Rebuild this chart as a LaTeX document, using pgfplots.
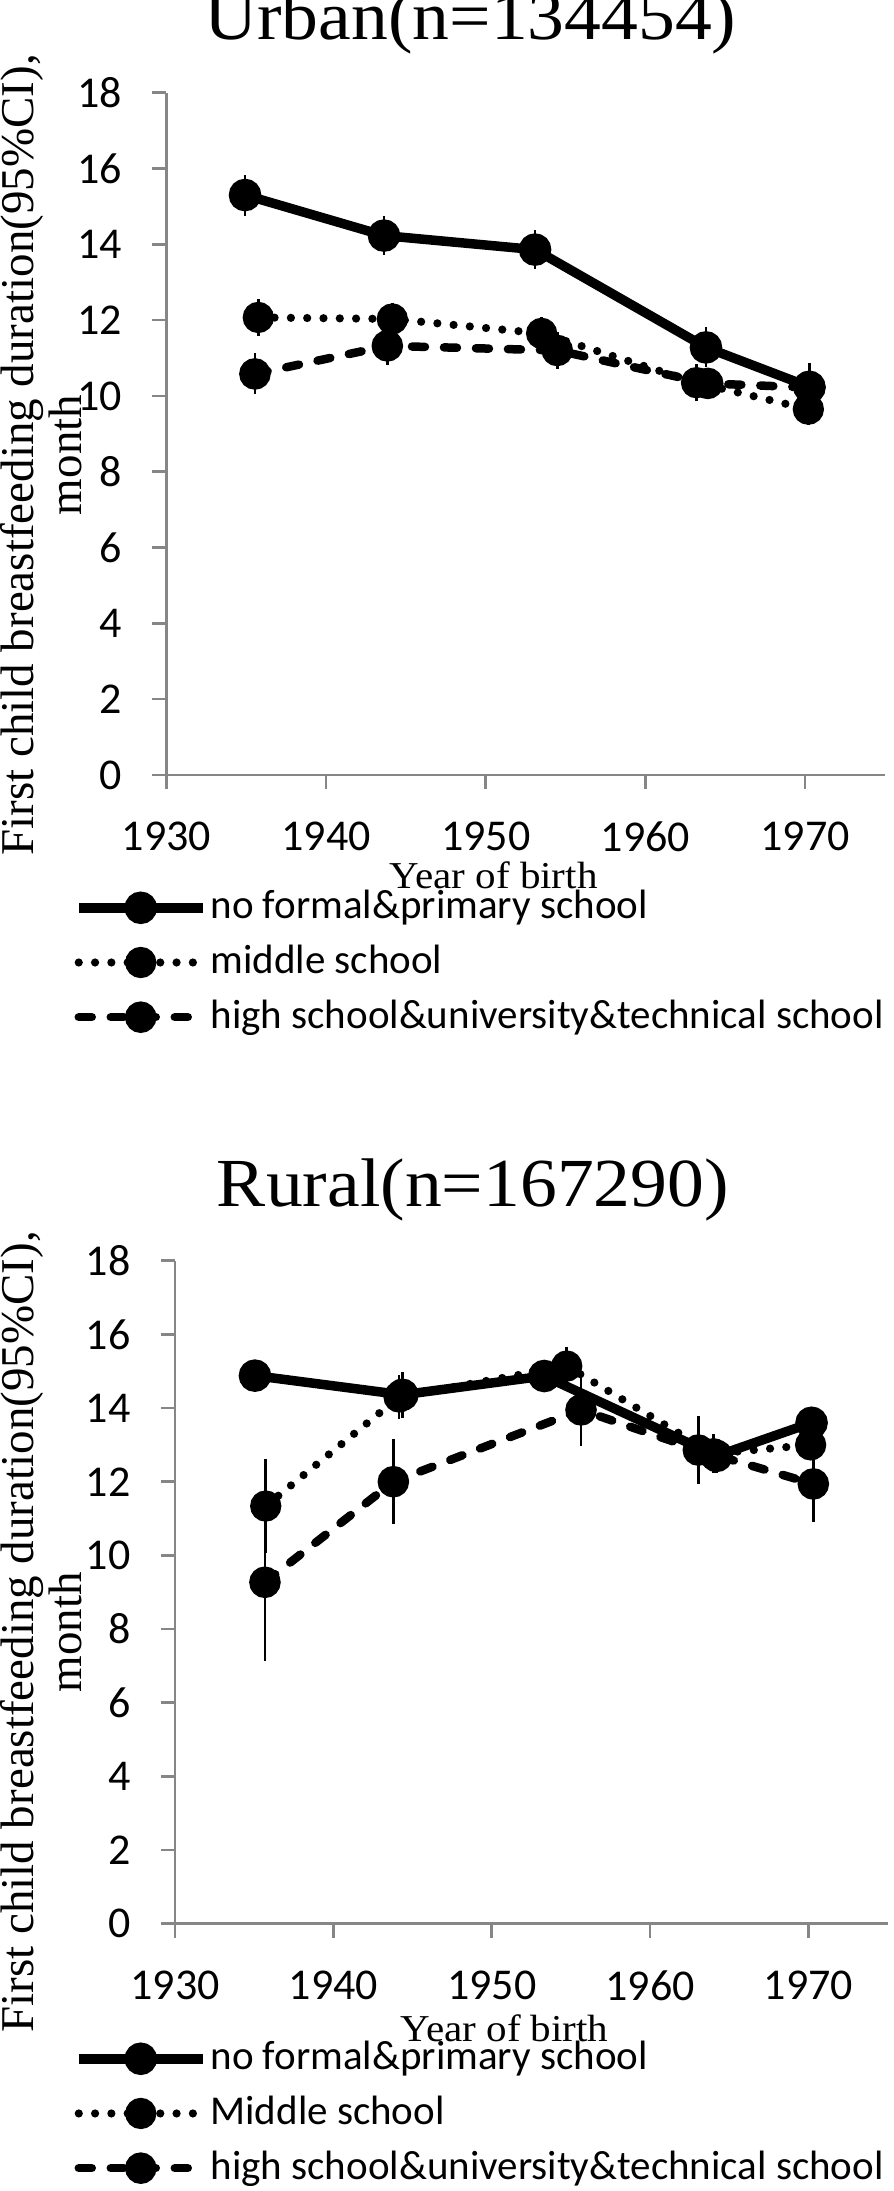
\documentclass[border=0pt]{standalone}
\usepackage{fontspec}
\setmainfont{Liberation Serif}
\newfontfamily\calib{Carlito}
\usepackage{graphicx}
\usepackage{pgfplots}
\usepackage{pgfplotstable}
\pgfplotsset{compat=1.18}
\definecolor{axgray}{RGB}{134,134,134}

% Urban
\pgfplotstableread{
x y e
1934.93 15.30 0.54
1943.63 14.23 0.52
1953.09 13.86 0.52
1963.79 11.28 0.53
1970.26 10.24 0.62
}\US
\pgfplotstableread{
x y e
1935.76 12.07 0.50
1944.15 12.03 0.42
1953.50 11.65 0.42
1963.20 10.35 0.48
1970.20 9.65 0.42
}\UM
\pgfplotstableread{
x y e
1935.55 10.58 0.54
1943.84 11.32 0.50
1954.48 11.20 0.49
1963.90 10.33 0.40
1970.30 10.22 0.50
}\UH
% Rural
\pgfplotstableread{
x y e
1935.05 14.88 0.43
1944.36 14.36 0.62
1953.32 14.87 0.40
1964.20 12.70 0.45
1970.20 13.60 0.40
}\RS
\pgfplotstableread{
x y e
1935.73 11.34 1.27
1944.15 14.30 0.60
1954.74 15.14 0.53
1964.00 12.76 0.53
1970.14 13.00 0.40
}\RM
\pgfplotstableread{
x y e
1935.68 9.27 2.13
1943.79 12.00 1.15
1955.64 13.95 0.98
1963.05 12.86 0.93
1970.31 11.94 1.02
}\RH

\pgfplotsset{
  myaxis/.style={
    scale only axis,
    axis lines*=left,
    xmin=1930, xmax=1975, ymin=0, ymax=18,
    xtick={1930,1940,...,1970}, ytick={0,2,...,18},
    tick align=outside,
    major tick length=7pt,
    axis line style={axgray, line width=1.3pt},
    tick style={axgray, line width=1.3pt},
    tick label style={font=\calib\fontsize{22}{26}\selectfont, /pgf/number format/assume math mode=true},
    /pgf/number format/1000 sep={},
    yticklabel style={anchor=east, inner sep=0pt, xshift=-15pt},
    xticklabel style={anchor=north, inner sep=0pt, yshift=-16.25pt},
    clip=false,
    title style={font=\fontsize{34.4}{38}\selectfont, anchor=base, inner sep=0pt, yshift=0pt},
    xlabel style={font=\fontsize{19}{23}\selectfont, anchor=center, inner sep=0pt},
    ylabel style={font=\fontsize{23.5}{24}\selectfont, align=center, rotate=0, anchor=north, inner sep=0pt},
    legend style={draw=none, fill=none, inner sep=0pt, outer sep=0pt,
      font=\calib\fontsize{20.5}{25}\selectfont,
      nodes={inner sep=0pt, text height=16pt, text depth=5pt},
      row sep=6.35pt, column sep=1.5pt},
    legend cell align=left,
    legend image code/.code={\draw[mark repeat=2,mark phase=2,##1] plot coordinates {(0pt,0pt) (31pt,0pt) (62pt,0pt)};},
  },
  sline/.style={black, line width=4.75pt, solid, mark=*, mark size=5.75pt, mark options={solid, fill=black, draw=none}},
  dline/.style={black, line width=4.1pt, dash pattern=on 0pt off 8.15pt, line cap=round, mark=*, mark size=5.75pt, mark options={solid, fill=black, draw=none}},
  hline/.style={black, line width=4.25pt, dash pattern=on 6.5pt off 9.5pt, line cap=round, mark=*, mark size=5.75pt, mark options={solid, fill=black, draw=none}},
  ebar/.style={error bars/.cd, y dir=both, y explicit, error mark=none, error bar style={line width=1.35pt, black, solid, line cap=butt}},
}

\begin{document}
\begin{tikzpicture}
\path[use as bounding box] (0,0) rectangle (447pt,-1095.5pt);

\begin{axis}[myaxis,
  at={(83.15pt,-387.45pt)}, anchor=south west,
  width=359.35pt, height=341.1pt,
  title={\scalebox{1.07}[1]{Urban(n=134454)}},
  title style={at={(axis description cs:0.423,1.0601)}},
  xlabel={\scalebox{1.08}[1]{Year of birth}},
  xlabel style={at={(axis description cs:0.4555,-0.1467)}},
  ylabel={First child breastfeeding duration(95\%CI),\\month},
  ylabel style={at={(axis description cs:-0.2314,0.469)}},
  legend style={at={(axis description cs:-0.1284,-0.164)}, anchor=north west},
]
\addplot[sline, ebar] table[x=x, y=y, y error=e] {\US};
\addlegendentry{no formal\&primary school}
\addplot[dline, ebar] table[x=x, y=y, y error=e] {\UM};
\addlegendentry{middle school}
\addplot[hline, ebar] table[x=x, y=y, y error=e] {\UH};
\addlegendentry{high school\&university\&technical school}
\end{axis}

\begin{axis}[myaxis,
  at={(87.5pt,-961.85pt)}, anchor=south west,
  width=356.3pt, height=331.5pt,
  title={\scalebox{1.07}[1]{Rural(n=167290)}},
  title style={at={(axis description cs:0.418,1.0639)}},
  xlabel={\scalebox{1.08}[1]{Year of birth}},
  xlabel style={at={(axis description cs:0.4625,-0.157)}},
  ylabel={First child breastfeeding duration(95\%CI),\\month},
  ylabel style={at={(axis description cs:-0.2456,0.44)}},
  legend style={at={(axis description cs:-0.1417,-0.172)}, anchor=north west},
]
\addplot[sline, ebar] table[x=x, y=y, y error=e] {\RS};
\addlegendentry{no formal\&primary school}
\addplot[dline, ebar] table[x=x, y=y, y error=e] {\RM};
\addlegendentry{Middle school}
\addplot[hline, ebar] table[x=x, y=y, y error=e] {\RH};
\addlegendentry{high school\&university\&technical school}
\end{axis}
\end{tikzpicture}
\end{document}
